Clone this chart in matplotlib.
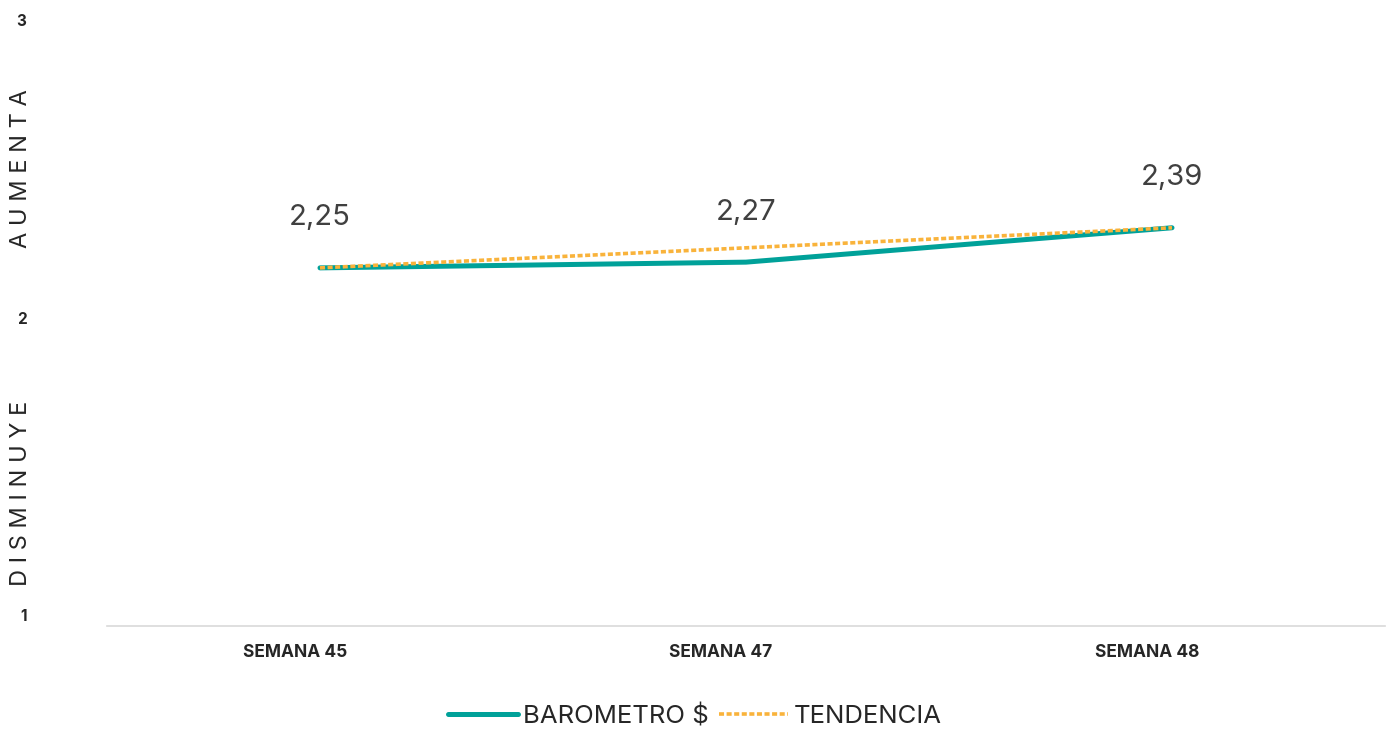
import matplotlib
matplotlib.use("Agg")
import matplotlib.pyplot as plt
import matplotlib.transforms as mtrans

# data
semanas = ['SEMANA 45', 'SEMANA 47', 'SEMANA 48']
barometro = [2.25, 2.27, 2.39]
tendencia = [2.25, 2.32, 2.39]
etiquetas = ['2,25', '2,27', '2,39']
y_ticks = [1, 2, 3]

plt.rcParams['font.family'] = ['Inter', 'DejaVu Sans']

teal = '#00A199'
naranja = '#F9B33B'

fig = plt.figure(figsize=(13.94, 7.29), dpi=100)
ax = fig.add_axes([107/1394, 103/729, 1278/1394, 573/729])

x = list(range(len(semanas)))
ax.plot(x, barometro, color=teal, lw=3.6, solid_capstyle='round', label='BAROMETRO $', zorder=2)
ax.plot(x, tendencia, color=naranja, lw=2.6, linestyle=(0, (1.4, 0.7)), label='TENDENCIA', zorder=3)

for xi, v, t in zip(x, barometro, etiquetas):
    ax.annotate(t, (xi, v), xytext=(0, 36), textcoords='offset points',
                ha='center', va='center', fontsize=21, color='#404040')

ax.set_xlim(-0.5, 2.5)
ax.set_ylim(1, 3)
ax.set_xticks(x)
ax.set_xticklabels(semanas, fontsize=12.5, fontweight='bold', color='#262626')
ax.tick_params(axis='x', length=0, pad=13)
shift = mtrans.ScaledTranslation(-25/100, 0, fig.dpi_scale_trans)
for lbl in ax.get_xticklabels():
    lbl.set_transform(lbl.get_transform() + shift)
ax.set_yticks([])
for s in ['top', 'right', 'left']:
    ax.spines[s].set_visible(False)
ax.spines['bottom'].set_color('#D9D9D9')
ax.spines['bottom'].set_linewidth(1.2)

# y tick labels on a thin helper axis
ax2 = fig.add_axes([107/1394, 1 - 615/729, 0.0001, 595/729])
ax2.set_ylim(1, 3)
ax2.set_yticks(y_ticks)
ax2.set_yticklabels([str(v) for v in y_ticks], fontsize=11, fontweight='bold', color='#262626')
ax2.tick_params(axis='y', length=0, pad=58)
ax2.set_xticks([])
for s in ax2.spines.values():
    s.set_visible(False)
ax2.patch.set_alpha(0)

fig.text(21/1394, 1 - 169/729, 'A U M E N T A', rotation=90, ha='center', va='center',
         fontsize=17, color='#262626')
fig.text(21/1394, 1 - 493/729, 'D I S M I N U Y E', rotation=90, ha='center', va='center',
         fontsize=17, color='#262626')

fig.legend(loc='center', bbox_to_anchor=(695/1394, 1 - 716/729), ncol=2, frameon=False,
           fontsize=18.5, handlelength=2.7, handletextpad=0.2, columnspacing=0.4,
           labelcolor='#262626')

fig.savefig('out.png', dpi=100)
